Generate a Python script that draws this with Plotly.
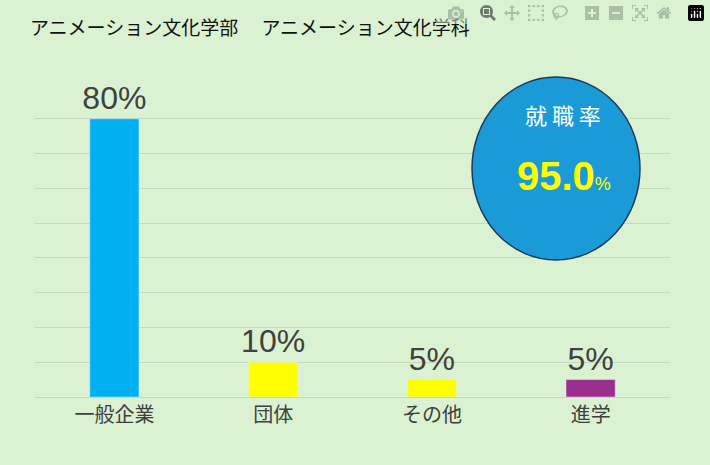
import plotly.graph_objects as go

categories = ["一般企業", "団体", "その他", "進学"]
values = [80, 10, 5, 5]
labels = ["80%", "10%", "5%", "5%"]
colors = ["#00b0f0", "#ffff00", "#ffff00", "#9b2d8f"]

L, R, T, B = 35, 40, 84, 68
W, H = 710, 465
pw, ph = W - L - R, H - T - B
def px(x): return (x - L) / pw
def py(y): return (H - B - y) / ph

fig = go.Figure(go.Bar(
    x=categories, y=values, marker_color=colors, width=0.31,
    text=labels, textposition="outside", cliponaxis=False, constraintext="none",
    textfont=dict(family="Liberation Sans Narrow, Liberation Sans", size=32, color="#404040"),
))
fig.update_layout(
    width=W, height=H, margin=dict(l=L, r=R, t=T, b=B),
    paper_bgcolor="#daf2d2", plot_bgcolor="#daf2d2", showlegend=False,
    xaxis=dict(showgrid=False, tickfont=dict(family="Noto Sans CJK JP", size=20, color="#404040"),
               ticks="", showline=True, linecolor="#c8d8c0"),
    yaxis=dict(range=[0, 90], dtick=10, showticklabels=False, gridcolor="#c8d8c0",
               zeroline=False),
    shapes=[dict(type="circle", xref="paper", yref="paper",
                 x0=px(472), x1=px(640), y0=py(260), y1=py(77),
                 fillcolor="#1a9bd7", line=dict(color="#1b3a5a", width=1.5))],
    annotations=[
        dict(text="アニメーション文化学部　 アニメーション文化学科", xref="paper", yref="paper",
             x=px(28), y=py(27), xanchor="left", yanchor="middle", showarrow=False,
             font=dict(family="Noto Sans CJK JP", size=19, color="#111111")),
        dict(text="就 職 率", xref="paper", yref="paper", x=px(563), y=py(114),
             xanchor="center", yanchor="middle",
             showarrow=False, font=dict(family="Noto Sans CJK JP", size=22, color="white")),
        dict(text="<b>95.0</b><span style='font-size:18px'>%</span>", xref="paper", yref="paper",
             x=px(564), y=py(176), xanchor="center", yanchor="middle", showarrow=False,
             font=dict(family="Liberation Sans", size=40, color="#ffff00")),
    ],
)
fig.write_html("out.html", post_script="document.body.style.margin='0';")
